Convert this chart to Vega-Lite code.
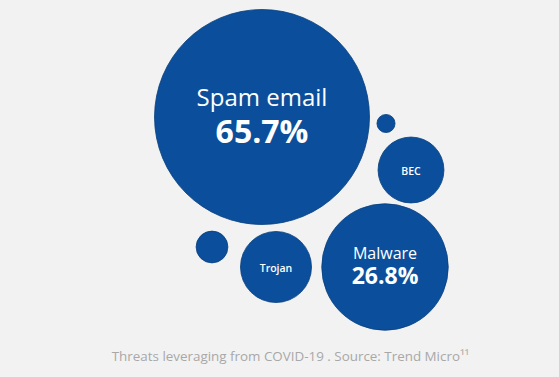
{
  "$schema": "https://vega.github.io/schema/vega-lite/v6.json",
  "width": 559,
  "height": 377,
  "padding": 0,
  "autosize": {"type": "none"},
  "background": "#f2f2f2",
  "config": {"view": {"stroke": null}, "font": "Open Sans"},
  "title": {
    "text": "Threats leveraging from COVID-19 . Source: Trend Micro¹¹",
    "orient": "bottom",
    "anchor": "middle",
    "offset": -27,
    "dx": 11,
    "fontSize": 13.4,
    "fontWeight": "normal",
    "font": "Open Sans",
    "color": "#a8a8a8"
  },
  "data": {
    "values": [
      {"name": "Spam email", "value": 65.7, "px": 262, "py": 117},
      {"name": "Malware", "value": 26.8, "px": 385, "py": 267},
      {"name": "BEC", "value": 8.9, "px": 411, "py": 170},
      {"name": "Trojan", "value": 10.1, "px": 276, "py": 267},
      {"name": "Other A", "value": 2.6, "px": 212, "py": 247},
      {"name": "Other B", "value": 1.0, "px": 386, "py": 123.5}
    ]
  },
  "transform": [
    {"calculate": "format(datum.value, '.1f') + '%'", "as": "pct"}
  ],
  "encoding": {
    "x": {"field": "px", "type": "quantitative", "scale": {"domain": [0, 559], "nice": false, "zero": false}, "axis": null},
    "y": {"field": "py", "type": "quantitative", "scale": {"domain": [377, 0], "nice": false, "zero": false}, "axis": null}
  },
  "layer": [
    {
      "mark": {"type": "point", "shape": "circle", "filled": true, "color": "#0b4f9c", "opacity": 1, "stroke": "#083f7e", "strokeWidth": 0.8},
      "encoding": {
        "size": {"field": "value", "type": "quantitative", "scale": {"type": "pow", "exponent": 1.183, "domain": [0, 65.7], "range": [0, 46225]}, "legend": null}
      }
    },
    {
      "transform": [{"filter": "datum.name === 'Spam email'"}],
      "mark": {"type": "text", "color": "white", "fontSize": 24, "baseline": "alphabetic", "dy": -11},
      "encoding": {"text": {"field": "name"}}
    },
    {
      "transform": [{"filter": "datum.name === 'Spam email'"}],
      "mark": {"type": "text", "color": "white", "fontSize": 32, "fontWeight": "bold", "baseline": "alphabetic", "dy": 25.7},
      "encoding": {"text": {"field": "pct"}}
    },
    {
      "transform": [{"filter": "datum.name === 'Malware'"}],
      "mark": {"type": "text", "color": "white", "fontSize": 16, "baseline": "alphabetic", "dy": -8.5},
      "encoding": {"text": {"field": "name"}}
    },
    {
      "transform": [{"filter": "datum.name === 'Malware'"}],
      "mark": {"type": "text", "color": "white", "fontSize": 23, "fontWeight": "bold", "baseline": "alphabetic", "dy": 17.3},
      "encoding": {"text": {"field": "pct"}}
    },
    {
      "transform": [{"filter": "datum.name === 'BEC' || datum.name === 'Trojan'"}],
      "mark": {"type": "text", "color": "white", "fontSize": 10.5, "fontWeight": 600, "baseline": "alphabetic", "dy": 4.5},
      "encoding": {"text": {"field": "name"}}
    }
  ]
}
